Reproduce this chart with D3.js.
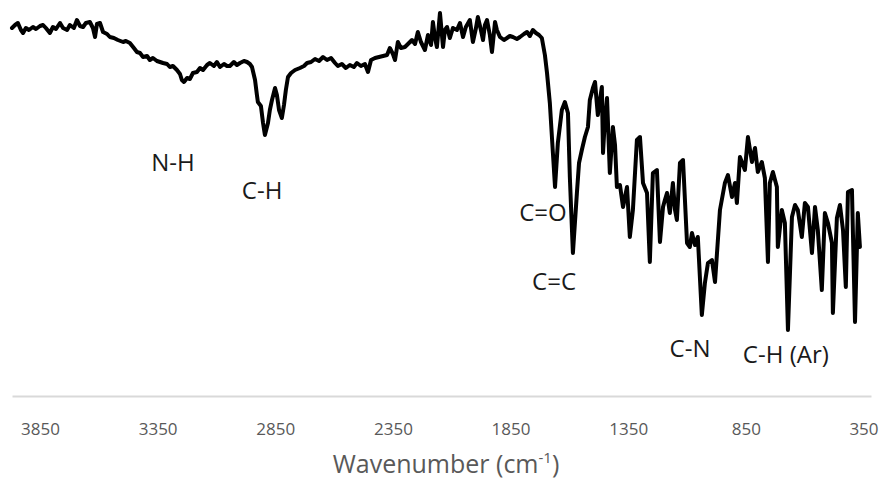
<!DOCTYPE html>
<html>
<head>
<meta charset="utf-8">
<script src="https://cdn.jsdelivr.net/npm/d3@7"></script>
<style>
  body { margin: 0; background: #fff; }
  svg { display: block; font-family: "Open Sans", sans-serif; }
</style>
</head>
<body>
<script>
// wavenumber (cm-1)
const wavenumber = [
  3969, 3956, 3944, 3931, 3922, 3910, 3897, 3880, 3867, 3850, 3837, 3825, 3808, 3795, 3782, 3765,
  3752, 3735, 3723, 3706, 3693, 3680, 3667, 3655, 3638, 3625, 3616, 3608, 3595, 3582, 3565, 3553,
  3536, 3519, 3497, 3485, 3468, 3451, 3438, 3425, 3412, 3395, 3383, 3370, 3353, 3340, 3327, 3310,
  3298, 3285, 3268, 3255, 3247, 3238, 3225, 3213, 3200, 3183, 3170, 3157, 3140, 3128, 3111, 3098,
  3085, 3068, 3055, 3043, 3026, 3013, 3000, 2983, 2970, 2958, 2949, 2936, 2928, 2924, 2911, 2902,
  2894, 2881, 2873, 2864, 2851, 2843, 2834, 2822, 2813, 2805, 2796, 2783, 2766, 2745, 2728, 2715,
  2698, 2681, 2664, 2647, 2630, 2613, 2596, 2584, 2567, 2550, 2533, 2516, 2503, 2486, 2469, 2456,
  2443, 2426, 2409, 2392, 2375, 2363, 2350, 2341, 2329, 2316, 2299, 2286, 2269, 2256, 2244, 2231,
  2214, 2201, 2188, 2180, 2171, 2163, 2150, 2137, 2129, 2120, 2108, 2095, 2078, 2065, 2052, 2040,
  2023, 2010, 1997, 1989, 1976, 1967, 1959, 1950, 1938, 1929, 1916, 1908, 1895, 1878, 1865, 1853,
  1840, 1823, 1810, 1793, 1780, 1768, 1755, 1742, 1729, 1717, 1704, 1695, 1683, 1670, 1661, 1649,
  1632, 1619, 1606, 1598, 1585, 1568, 1559, 1547, 1534, 1521, 1513, 1500, 1491, 1479, 1470, 1462,
  1457, 1449, 1440, 1428, 1415, 1406, 1398, 1385, 1372, 1355, 1343, 1330, 1313, 1300, 1287, 1270,
  1258, 1245, 1228, 1215, 1202, 1194, 1185, 1173, 1160, 1151, 1143, 1130, 1117, 1100, 1088, 1079,
  1066, 1054, 1037, 1024, 1011, 994, 981, 960, 939, 926, 909, 896, 888, 875, 862, 854,
  841, 824, 811, 799, 782, 769, 756, 748, 735, 718, 714, 697, 684, 671, 654, 641,
  629, 612, 599, 586, 569, 556, 544, 527, 514, 501, 484, 480, 463, 450, 437, 425,
  416, 399, 386, 374, 365
];

// transmittance (%) at each wavenumber
const transmittance = [
  93, 93.75, 94.25, 92.5, 91.75, 93, 92.5, 93.25, 92.75, 93.5, 93.75, 93, 91.75, 93.25, 92.75, 94.25,
  93, 92.5, 93.75, 93, 95, 93.5, 93.25, 94.25, 94.5, 93, 90.75, 94, 94.25, 92, 91.5, 90.75,
  90.5, 90, 89.5, 89.75, 89.25, 88, 87, 86.75, 85.75, 86, 85, 85.5, 84.75, 84.5, 84.25, 84,
  83.25, 83.5, 82.5, 81.5, 80, 79.5, 80.5, 80.25, 81.75, 82, 83, 82.5, 83.75, 84.25, 83.5, 84.5,
  83.25, 84, 83.5, 83.5, 84.5, 83.75, 84.25, 84.75, 84.5, 84, 83.25, 80, 76.25, 74.5, 73.5, 69.25,
  66.25, 69.25, 72.5, 75, 78, 76.25, 72.5, 70.5, 73.75, 77.5, 80.75, 81.75, 82.5, 83, 83.5, 84.25,
  84.5, 85.25, 84.75, 85.75, 85, 85.5, 84.25, 83.5, 84, 83, 83.75, 83.25, 84.25, 83.5, 84, 82,
  85, 85.5, 85.75, 86, 86.25, 88, 86.5, 85, 89.5, 88, 88.25, 89, 90, 89, 92, 89.5,
  87.5, 91.25, 88.75, 94.5, 90.5, 88.25, 96.75, 88.25, 92.5, 93.25, 90.5, 93, 92.5, 94.25, 90.75, 93.25,
  95, 89.5, 93, 95.75, 92.5, 90, 93.75, 95, 91.25, 87, 94.5, 92.5, 90.75, 90, 90.5, 91,
  90.75, 90.25, 90.75, 91.5, 92, 91, 92.5, 91.75, 91.25, 90.5, 86.25, 81.75, 74.25, 61.75, 53.25, 64.25,
  72.5, 74.5, 71.75, 55.75, 36.75, 51.75, 59.25, 62.5, 65.75, 68.25, 75, 78, 79.5, 71.25, 75, 78.25,
  61.75, 70, 75.5, 56.75, 68.25, 63.75, 53.25, 53.75, 48.25, 53.25, 40.75, 47.5, 65, 65.75, 54.25, 51.75,
  34.5, 56.75, 57.5, 39.5, 48.25, 50, 51.75, 46.75, 54.25, 47.5, 45, 59.25, 60, 39.25, 38.25, 41.75,
  38.75, 40.75, 21.25, 29.25, 34.25, 35, 29.5, 47.5, 54.25, 56.25, 50.75, 54.25, 49.25, 60.75, 58.75, 57.5,
  65.75, 59.5, 63, 57, 59.5, 55.5, 34.5, 54.25, 57, 53.25, 38.25, 47.5, 44.25, 17.5, 45.75, 48.75,
  47.5, 40.75, 49.25, 48.25, 36.75, 48.25, 42.5, 27.5, 46.75, 44.25, 39.25, 21.75, 45.5, 48.75, 42.5, 28.25,
  52, 52.5, 19.5, 46.75, 38.25
];

const tickValues = [3850, 3350, 2850, 2350, 1850, 1350, 850, 350];

// band assignments and where they sit (wavenumber, transmittance)
const bandLabels = ["N-H", "C-H", "C=O", "C=C", "C-N", "C-H (Ar)"];
const bandWave = [3285, 2906, 1712, 1665, 1087, 680];
const bandT = [57.25, 50.25, 44.75, 27.5, 10.75, 9.25];

const width = 892;
const height = 482;
const axisY = 396;

const points = wavenumber.map((w, i) => ({ w: w, t: transmittance[i] }));

const svg = d3.select("body")
  .append("svg")
  .attr("width", width)
  .attr("height", height);

const xScale = d3.scaleLinear()
  .domain([3969, 318])
  .range([12, 871]);

const yScale = d3.scaleLinear()
  .domain([0, 100])
  .range([400, 0]);

// horizontal axis, only a light line and grey labels
const xAxis = d3.axisBottom(xScale)
  .tickValues(tickValues)
  .tickFormat(d3.format("d"))
  .tickSize(0)
  .tickPadding(27);

const gx = svg.append("g")
  .attr("transform", "translate(0," + axisY + ")")
  .call(xAxis);

gx.select(".domain")
  .attr("stroke", "#d9d9d9")
  .attr("stroke-width", 2);

gx.selectAll("text")
  .attr("fill", "#595959")
  .attr("font-size", 17)
  .attr("font-family", "Open Sans, sans-serif");

const line = d3.line()
  .x(d => xScale(d.w))
  .y(d => yScale(d.t));

svg.append("path")
  .datum(points)
  .attr("fill", "none")
  .attr("stroke", "#000")
  .attr("stroke-width", 4)
  .attr("stroke-linejoin", "round")
  .attr("stroke-linecap", "round")
  .attr("d", line);

svg.selectAll(".band")
  .data(bandLabels)
  .enter()
  .append("text")
  .attr("class", "band")
  .attr("x", (d, i) => xScale(bandWave[i]))
  .attr("y", (d, i) => yScale(bandT[i]))
  .attr("text-anchor", "middle")
  .attr("font-size", 24)
  .attr("fill", "#1a1a1a")
  .text(d => d);

const title = svg.append("text")
  .attr("x", 446)
  .attr("y", 473)
  .attr("text-anchor", "middle")
  .attr("font-size", 25)
  .attr("fill", "#595959");

title.append("tspan").text("Wavenumber (cm");
title.append("tspan").attr("font-size", 15).attr("dy", -10).text("-1");
title.append("tspan").attr("dy", 10).text(")");
</script>
</body>
</html>
